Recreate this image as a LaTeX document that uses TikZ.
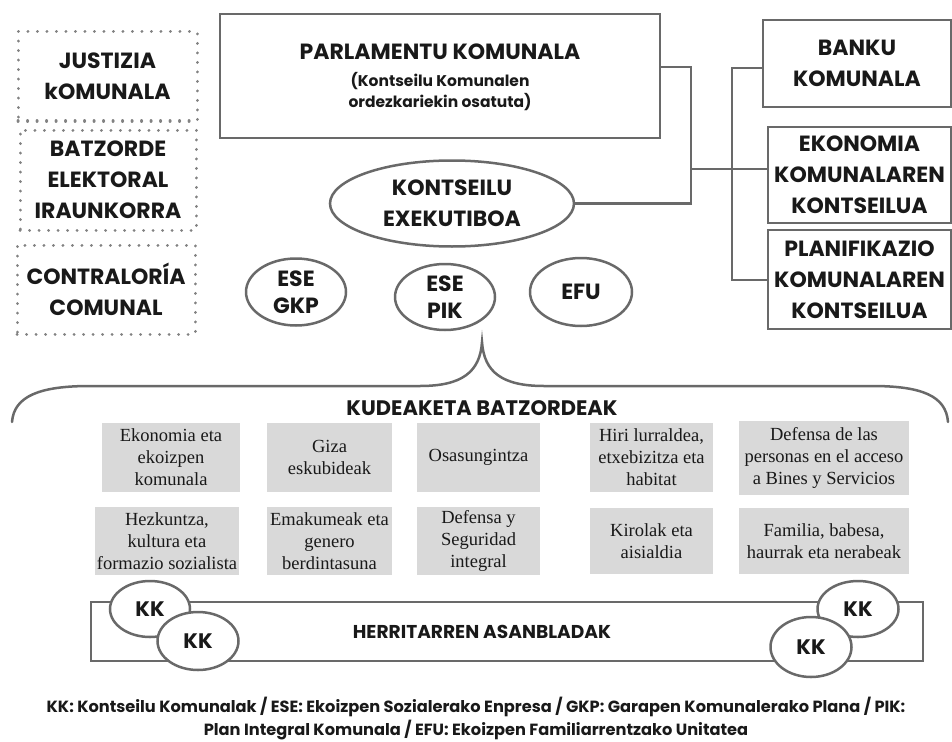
\documentclass[tikz,border=0pt]{standalone}
\usepackage{fontspec}
\setmainfont{Poppins}
\newfontfamily\boxserif{Liberation Serif}
\usetikzlibrary{shapes.geometric}
\definecolor{lineg}{RGB}{105,105,105}
\definecolor{dotg}{RGB}{130,130,130}
\definecolor{boxg}{RGB}{217,217,217}
\definecolor{txt}{RGB}{25,25,25}
\begin{document}
\begin{tikzpicture}[x=1pt,y=-1pt,
  every node/.style={inner sep=0pt, outer sep=0pt, text=txt},
  hdr/.style={font=\fontsize{22}{31}\selectfont\bfseries, align=center},
  dotbox/.style={hdr, draw=dotg, line width=3pt, dash pattern=on 0.1pt off 9.4pt, line cap=round, rectangle},
  sbox/.style={hdr, draw=lineg, line width=2.5pt, rectangle},
  oval/.style={hdr, draw=lineg, line width=2.5pt, ellipse, fill=white},
  kkoval/.style={oval, font=\fontsize{21}{22}\selectfont\bfseries},
  gbox/.style={fill=boxg, align=center, font=\boxserif\fontsize{18.5}{22}\selectfont},
  conn/.style={draw=lineg, line width=2.5pt}
]
\useasboundingbox (0,0) rectangle (952,741);

% left dotted boxes
\node[dotbox, minimum width=179pt, minimum height=89pt] (just) at (107.5,76.5) {JUSTIZIA\\kOMUNALA};
\node[dotbox, minimum width=176pt, minimum height=100pt] (batz) at (108,180) {BATZORDE\\ELEKTORAL\\IRAUNKORRA};
\node[dotbox, minimum width=178pt, minimum height=89pt] (contr) at (106,289.5) {CONTRALORÍA\\COMUNAL};

% parliament
\node[sbox, minimum width=440pt, minimum height=124pt] (parl) at (440,76) {};
\node[hdr] (parlt) at (440,52) {PARLAMENTU KOMUNALA};
\node[align=center, font=\fontsize{15.5}{21}\selectfont\bfseries] (parls) at (440,92) {(Kontseilu Komunalen\\ordezkariekin osatuta)};

% executive council and small ovals
\node[oval, minimum width=244pt, minimum height=86pt] (ke) at (452,203.5) {KONTSEILU\\EXEKUTIBOA};
\node[oval, minimum width=100pt, minimum height=67pt, font=\fontsize{22}{27}\selectfont\bfseries] (gkp) at (296,292) {ESE\\GKP};
\node[oval, minimum width=100pt, minimum height=66pt, font=\fontsize{22}{27}\selectfont\bfseries] (pik) at (445,297) {ESE\\PIK};
\node[oval, minimum width=102pt, minimum height=68pt, font=\fontsize{22}{27}\selectfont\bfseries] (efu) at (581,292) {EFU};

% right boxes
\node[sbox, minimum width=188pt, minimum height=87pt] (banku) at (857,63.5) {BANKU\\KOMUNALA};
\node[sbox, minimum width=183pt, minimum height=96pt] (eko) at (859.5,175) {EKONOMIA\\KOMUNALAREN\\KONTSEILUA};
\node[sbox, minimum width=183pt, minimum height=99pt] (plan) at (859.5,279.5) {PLANIFIKAZIO\\KOMUNALAREN\\KONTSEILUA};

% connectors
\coordinate (pa) at (691,67);
\coordinate (pb) at (691,203.5);
\coordinate (pm) at (691,169);
\coordinate (bt) at (732,68);
\coordinate (bb) at (732,280);
\draw[conn] (parl.east |- pa) -- (pa) -- (pb) -- (ke.east);
\draw[conn] (pm) -- (eko.west |- pm);
\draw[conn] (banku.west |- bt) -- (bt) -- (bb) -- (plan.west |- bb);

% brace
\coordinate (btip) at (482,342);
\draw[conn, line cap=round] (12,422) .. controls (14,396) and (40,386) .. (90,386) -- (420,386)
  .. controls (462,386) and (480,372) .. (btip)
  .. controls (484,372) and (502,386) .. (544,386) -- (872,386)
  .. controls (922,386) and (946,396) .. (948,422);

\node[font=\fontsize{21}{22}\selectfont\bfseries] (kudt) at (482,408) {KUDEAKETA BATZORDEAK};

% grey committee boxes
\node[gbox, minimum width=138pt, minimum height=69pt] (g1) at (171,457.5) {Ekonomia eta\\ekoizpen\\komunala};
\node[gbox, minimum width=125pt, minimum height=69pt] (g2) at (329.5,457.5) {Giza\\eskubideak};
\node[gbox, minimum width=123pt, minimum height=69pt] (g3) at (478.5,457.5) {Osasungintza};
\node[gbox, minimum width=123pt, minimum height=69pt] (g4) at (651.5,457.5) {Hiri lurraldea,\\etxebizitza eta\\habitat};
\node[gbox, minimum width=170pt, minimum height=74pt] (g5) at (824,458) {Defensa de las\\personas en el acceso\\a Bines y Servicios};
\node[gbox, minimum width=144pt, minimum height=68pt] (g6) at (167,541) {Hezkuntza,\\kultura eta\\formazio sozialista};
\node[gbox, minimum width=125pt, minimum height=68pt] (g7) at (329.5,541) {Emakumeak eta\\genero\\berdintasuna};
\node[gbox, minimum width=123pt, minimum height=68pt] (g8) at (478.5,541) {Defensa y\\Seguridad\\integral};
\node[gbox, minimum width=123pt, minimum height=66pt] (g9) at (651.5,541) {Kirolak eta\\aisialdia};
\node[gbox, minimum width=170pt, minimum height=66pt] (g10) at (824,541) {Familia, babesa,\\haurrak eta nerabeak};

% assemblies
\node[sbox, minimum width=832pt, minimum height=59pt] (herr) at (507,631.5) {};
\node[font=\fontsize{18.6}{22}\selectfont\bfseries] (herrt) at (482,632) {HERRITARREN ASANBLADAK};
\node[kkoval, minimum width=80pt, minimum height=56pt] (kk1) at (150,609) {KK};
\node[kkoval, minimum width=81pt, minimum height=58pt] (kk2) at (198,641) {KK};
\node[kkoval, minimum width=81pt, minimum height=56pt] (kk3) at (858,609) {KK};
\node[kkoval, minimum width=81pt, minimum height=60pt] (kk4) at (811,647) {KK};

% footer
\node[font=\fontsize{16.2}{23}\selectfont\bfseries, align=center] (foot) at (476,719) {KK: Kontseilu Komunalak / ESE: Ekoizpen Sozialerako Enpresa / GKP: Garapen Komunalerako Plana / PIK:\\Plan Integral Komunala / EFU: Ekoizpen Familiarrentzako Unitatea};
\end{tikzpicture}
\end{document}
